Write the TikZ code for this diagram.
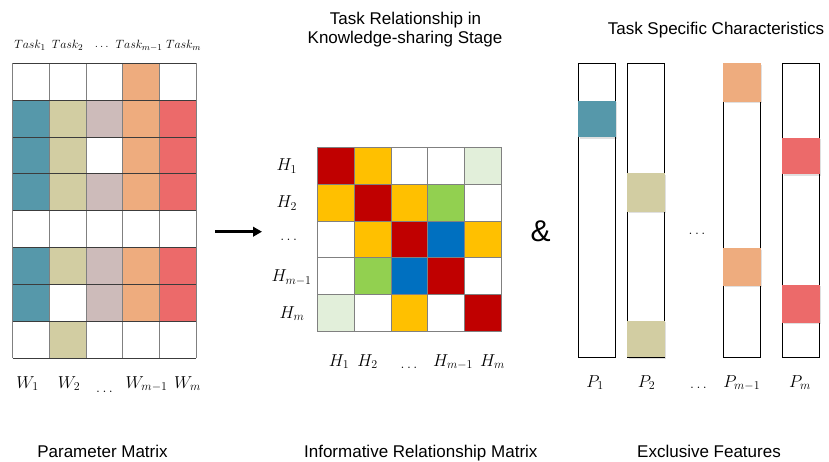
\documentclass[tikz,border=0pt]{standalone}
\usepackage{fontspec}
\setmainfont{Liberation Sans}
\usetikzlibrary{arrows.meta}

% parameter / feature palette
\definecolor{cW}{RGB}{255,255,255}
\definecolor{cT}{RGB}{86,152,170}
\definecolor{cK}{RGB}{210,205,162}
\definecolor{cM}{RGB}{205,187,186}
\definecolor{cO}{RGB}{238,172,126}
\definecolor{cR}{RGB}{236,106,106}
% relationship palette
\definecolor{dW}{RGB}{255,255,255}
\definecolor{dR}{RGB}{192,0,0}
\definecolor{dY}{RGB}{255,192,0}
\definecolor{dG}{RGB}{146,208,80}
\definecolor{dB}{RGB}{0,112,192}
\definecolor{dL}{RGB}{226,239,218}
\definecolor{gridgray}{RGB}{128,128,128}
\definecolor{griddark}{RGB}{60,60,60}

\begin{document}
\begin{tikzpicture}[x=1pt,y=-1pt,
  caption/.style={font=\fontsize{17}{20}\selectfont, inner sep=0pt, anchor=base},
  mathlbl/.style={font=\fontsize{16.5}{19}\selectfont, inner sep=0pt, anchor=base},
  tasklbl/.style={font=\fontsize{13}{15}\selectfont, inner sep=0pt, anchor=base},
  dotslbl/.style={font=\fontsize{14}{16}\selectfont, inner sep=0pt, anchor=center},
  barframe/.style={draw=black, line width=0.8pt, fill=white},
  blockshadow/.style={fill=black, opacity=0.12}
]
\useasboundingbox (0,0) rectangle (829,462);

% ---------------- parameter matrix ----------------
\def\lx{12.7}\def\ly{63.3}\def\lw{36.66}\def\lh{36.875}
\foreach \r [count=\i from 0] in
  {{W,W,W,O,W},{T,K,M,O,R},{T,K,W,O,R},{T,K,M,O,R},
   {W,W,W,W,W},{T,K,M,O,R},{T,W,M,O,R},{W,K,W,W,W}} {
  \foreach \c [count=\j from 0] in \r {
    \fill[fill=c\c] ({\lx+\j*\lw},{\ly+\i*\lh}) rectangle ++(\lw,\lh);
  }
}
\foreach \j in {0,...,5}
  \draw[gridgray, line width=0.9pt] ({\lx+\j*\lw},\ly) -- ++(0,{8*\lh});
\foreach \i in {0,...,8}
  \draw[griddark, line width=0.9pt] (\lx,{\ly+\i*\lh}) -- ++({5*\lw},0);

\node[tasklbl] (t1) at (30,48.3) {$Task_1$};
\node[tasklbl] (t2) at (67.5,48.3) {$Task_2$};
\node[dotslbl, font=\fontsize{13}{15}\selectfont] (tdots) at (101.7,46.5) {$\dots$};
\node[tasklbl] (tm1) at (139,48.3) {$Task_{m-1}$};
\node[tasklbl] (tm) at (183.5,48.3) {$Task_m$};

\node[mathlbl] (w1) at (27.5,388.3) {$W_1$};
\node[mathlbl] (w2) at (69,388.3) {$W_2$};
\node[dotslbl] (wdots) at (104.5,391.7) {$\dots$};
\node[mathlbl] (wm1) at (146.5,388.3) {$W_{m-1}$};
\node[mathlbl] (wm) at (187.5,388.3) {$W_m$};

% ---------------- arrow ----------------
\coordinate (arrS) at (215,231.7);
\coordinate (arrE) at (262,231.7);
\draw[line width=2.5pt, -{Triangle[length=9pt,width=9.5pt]}] (arrS) -- (arrE);

% ---------------- relationship matrix ----------------
\def\mx{317.3}\def\my{147.3}\def\mw{36.88}
\foreach \r [count=\i from 0] in
  {{R,Y,W,W,L},{Y,R,Y,G,W},{W,Y,R,B,Y},{W,G,B,R,W},{L,W,Y,W,R}} {
  \foreach \c [count=\j from 0] in \r {
    \fill[fill=d\c] ({\mx+\j*\mw},{\my+\i*\mw}) rectangle ++(\mw,\mw);
  }
}
\foreach \k in {0,...,5} {
  \draw[gridgray, line width=1.1pt] ({\mx+\k*\mw},\my) -- ++(0,{5*\mw});
  \draw[gridgray, line width=1.1pt] (\mx,{\my+\k*\mw}) -- ++({5*\mw},0);
}

\node[mathlbl] (r1) at (286.7,171) {$H_1$};
\node[mathlbl] (r2) at (286.7,207.7) {$H_2$};
\node[dotslbl] (rdots) at (288.7,240) {$\dots$};
\node[mathlbl] (rm1) at (291.5,281.5) {$H_{m-1}$};
\node[mathlbl] (rm) at (292,318.4) {$H_m$};

\node[mathlbl] (c1) at (339,366) {$H_1$};
\node[mathlbl] (c2) at (367.5,366) {$H_2$};
\node[dotslbl] (cdots) at (409,368) {$\dots$};
\node[mathlbl] (cm1) at (453,366) {$H_{m-1}$};
\node[mathlbl] (cm) at (492.5,366) {$H_m$};

\node[font=\fontsize{30}{30}\selectfont, inner sep=0pt] (amp) at (540.5,231.5) {\&};

% ---------------- exclusive feature bars ----------------
\def\bt{63.3}\def\bb{357.3}\def\bw{37.3}
\foreach \bx in {578.3,627.3,723.3,782.3}
  \draw[barframe] (\bx,\bt) rectangle ++(\bw,{\bb-\bt});
\foreach \bx/\ya/\yb/\col in {578.3/100.7/137.3/cT,
                              627.3/173.3/211.7/cK, 627.3/321/357.3/cK,
                              723.3/63.3/101.7/cO, 723.3/248.3/285.7/cO,
                              782.3/137.7/174.3/cR, 782.3/285/322.7/cR} {
  \fill[blockshadow] ({\bx+1.4},{\ya+1.4}) rectangle ({\bx+\bw+1.4},{\yb+1.4});
  \fill[fill=\col] (\bx,\ya) rectangle ({\bx+\bw},\yb);
}
\node[dotslbl] (bdots) at (697,234) {$\dots$};

\node[mathlbl] (p1) at (595,387) {$P_1$};
\node[mathlbl] (p2) at (646.5,387) {$P_2$};
\node[dotslbl] (pdots) at (698.5,388) {$\dots$};
\node[mathlbl] (pm1) at (741.7,387) {$P_{m-1}$};
\node[mathlbl] (pm) at (800,387) {$P_m$};

% ---------------- captions ----------------
\node[caption] (title1) at (405.5,24.5) {Task Relationship in};
\node[caption] (title2) at (405,43.5) {Knowledge-sharing Stage};
\node[caption] (title3) at (716,35) {Task Specific Characteristics};

\node[caption] (cap1) at (102.5,457) {Parameter Matrix};
\node[caption] (cap2) at (420.8,457) {Informative Relationship Matrix};
\node[caption] (cap3) at (709,457) {Exclusive Features};
\end{tikzpicture}
\end{document}
